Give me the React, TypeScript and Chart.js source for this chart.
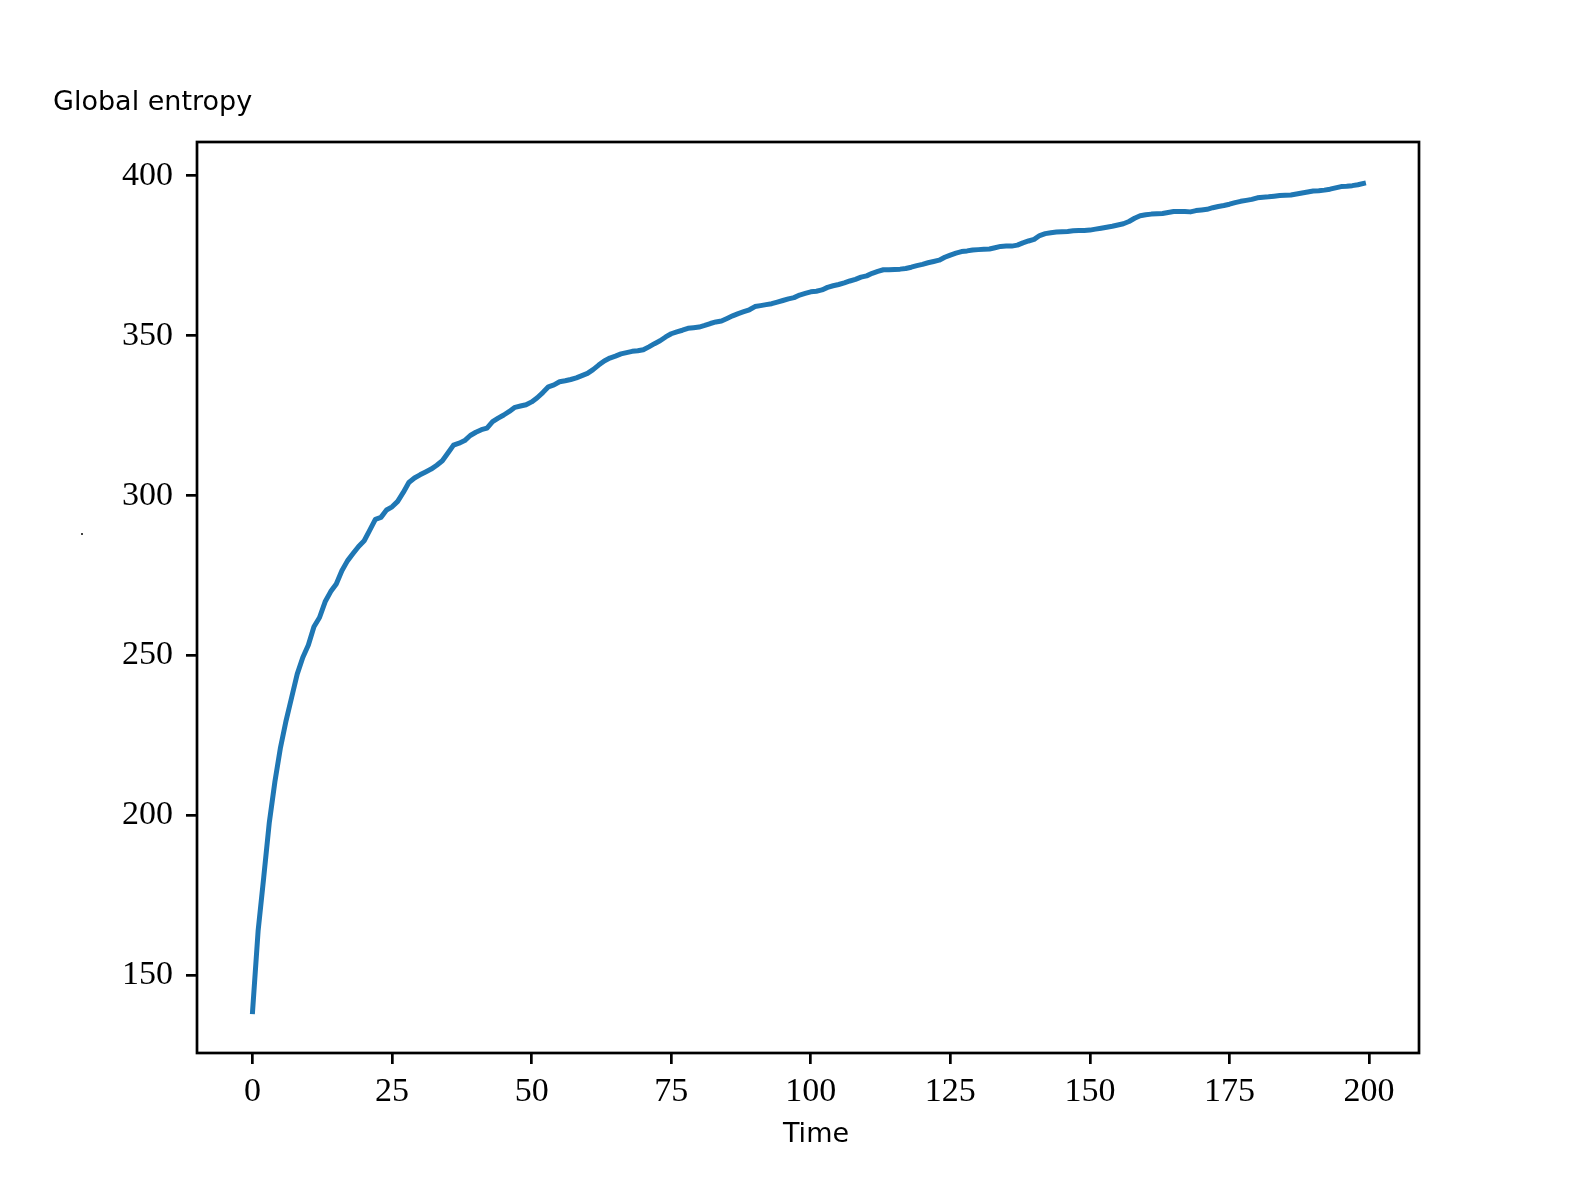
import React, { useEffect, useRef } from "react";
import { Chart, registerables } from "chart.js";

Chart.register(...registerables);

// Global entropy value at each time step t = 0 .. 199
const entropyValues: number[] = [
  138.7, 164.0, 180.6, 197.8, 210.5, 221.2, 229.6, 236.9, 244.2, 249.4,
  253.3, 259.0, 261.9, 266.8, 270.0, 272.4, 276.5, 279.6, 281.9, 284.1,
  285.9, 289.2, 292.6, 293.2, 295.5, 296.5, 298.2, 301.0, 304.1, 305.5,
  306.5, 307.4, 308.3, 309.5, 310.9, 313.3, 315.8, 316.4, 317.2, 318.8,
  319.8, 320.6, 321.1, 323.1, 324.2, 325.2, 326.3, 327.6, 328.0, 328.4,
  329.3, 330.6, 332.2, 334.0, 334.6, 335.6, 335.9, 336.3, 336.8, 337.5,
  338.2, 339.4, 340.8, 342.1, 343.0, 343.6, 344.3, 344.7, 345.1, 345.3,
  345.6, 346.5, 347.5, 348.4, 349.6, 350.6, 351.2, 351.7, 352.3, 352.5,
  352.7, 353.2, 353.8, 354.3, 354.6, 355.4, 356.2, 356.9, 357.5, 358.1,
  359.1, 359.4, 359.7, 360.0, 360.5, 361.0, 361.5, 361.9, 362.7, 363.2,
  363.7, 363.9, 364.3, 365.1, 365.6, 366.0, 366.5, 367.1, 367.6, 368.3,
  368.7, 369.5, 370.1, 370.6, 370.6, 370.7, 370.8, 371.0, 371.4, 371.9,
  372.3, 372.8, 373.2, 373.6, 374.5, 375.2, 375.8, 376.3, 376.5, 376.8,
  376.9, 377.0, 377.1, 377.5, 377.9, 378.0, 378.0, 378.3, 379.0, 379.6,
  380.1, 381.3, 381.9, 382.2, 382.4, 382.5, 382.6, 382.8, 382.9, 382.9,
  383.0, 383.3, 383.6, 383.9, 384.2, 384.6, 385.0, 385.7, 386.7, 387.5,
  387.8, 388.0, 388.1, 388.2, 388.5, 388.8, 388.8, 388.8, 388.7, 389.1,
  389.3, 389.5, 390.0, 390.4, 390.7, 391.1, 391.6, 392.0, 392.3, 392.6,
  393.1, 393.3, 393.4, 393.6, 393.8, 393.9, 394.0, 394.3, 394.6, 394.9,
  395.2, 395.3, 395.5, 395.8, 396.2, 396.6, 396.7, 396.9, 397.2, 397.6,
];

const xTicks: number[] = [0, 25, 50, 75, 100, 125, 150, 175, 200];
const yTicks: number[] = [150, 200, 250, 300, 350, 400];

const xLabel = "Time";
const yLabel = "Global entropy";

const lineColor = "#1f77b4";
const tickFont = { family: "'Liberation Serif', 'Times New Roman', serif", size: 34 };

export default function App() {
  const canvasRef = useRef<HTMLCanvasElement>(null);

  useEffect(() => {
    const canvas = canvasRef.current;
    if (!canvas) return;

    const yMin = Math.min(...entropyValues);
    const yMax = Math.max(...entropyValues);
    const ySpan = yMax - yMin;
    const xLast = entropyValues.length - 1;

    const framePlugin = {
      id: "frameAndLabels",
      afterDraw(chart: any) {
        const { ctx, chartArea } = chart;
        ctx.save();
        ctx.strokeStyle = "#000";
        ctx.lineWidth = 2.7;
        ctx.strokeRect(
          chartArea.left,
          chartArea.top,
          chartArea.right - chartArea.left,
          chartArea.bottom - chartArea.top
        );
        ctx.fillStyle = "#000";
        ctx.font = '27px "DejaVu Sans"';
        ctx.textBaseline = "alphabetic";
        ctx.textAlign = "left";
        ctx.fillText(yLabel, 53, 110);
        ctx.textAlign = "center";
        ctx.fillText(xLabel, 816, 1142);
        // small stray speck present in the original image
        ctx.fillStyle = "#444";
        ctx.fillRect(81, 533, 2, 2);
        ctx.restore();
      },
    };

    const gridOpts = {
      display: true,
      drawOnChartArea: false,
      drawTicks: true,
      tickLength: 11,
      tickWidth: 2.7,
      tickColor: "#000",
      color: "#000",
      lineWidth: 2.7,
    };

    const chart = new Chart(canvas, {
      type: "line",
      data: {
        datasets: [
          {
            data: entropyValues.map((v, i) => ({ x: i, y: v })),
            borderColor: lineColor,
            backgroundColor: lineColor,
            borderWidth: 5,
            pointRadius: 0,
            tension: 0,
            fill: false,
            borderCapStyle: "square",
            borderJoinStyle: "round",
          },
        ],
      },
      options: {
        responsive: false,
        animation: false,
        devicePixelRatio: 1,
        layout: { padding: { top: 142, right: 158, left: 0, bottom: 0 } },
        plugins: {
          legend: { display: false },
          title: { display: false },
          tooltip: { enabled: false },
        },
        scales: {
          x: {
            type: "linear",
            min: -0.05 * xLast,
            max: xLast * 1.05,
            afterBuildTicks: (s: any) => {
              s.ticks = xTicks.map((v) => ({ value: v }));
            },
            afterFit: (s: any) => {
              s.height = 130;
            },
            grid: gridOpts,
            border: { display: false },
            ticks: {
              autoSkip: false,
              maxRotation: 0,
              minRotation: 0,
              padding: 8,
              color: "#000",
              font: tickFont,
              callback: (v: any) => String(v),
            },
          },
          y: {
            type: "linear",
            min: yMin - 0.05 * ySpan,
            max: yMax + 0.05 * ySpan,
            afterBuildTicks: (s: any) => {
              s.ticks = yTicks.map((v) => ({ value: v }));
            },
            afterFit: (s: any) => {
              s.width = 197;
            },
            grid: gridOpts,
            border: { display: false },
            ticks: {
              autoSkip: false,
              padding: 13,
              color: "#000",
              font: tickFont,
              callback: (v: any) => String(v),
            },
          },
        },
      },
      plugins: [framePlugin],
    } as any);

    return () => chart.destroy();
  }, []);

  return (
    <div
      style={{
        position: "absolute",
        left: 0,
        top: 0,
        width: 1577,
        height: 1183,
        background: "#fff",
      }}
    >
      <canvas ref={canvasRef} width={1577} height={1183} style={{ display: "block" }} />
    </div>
  );
}
